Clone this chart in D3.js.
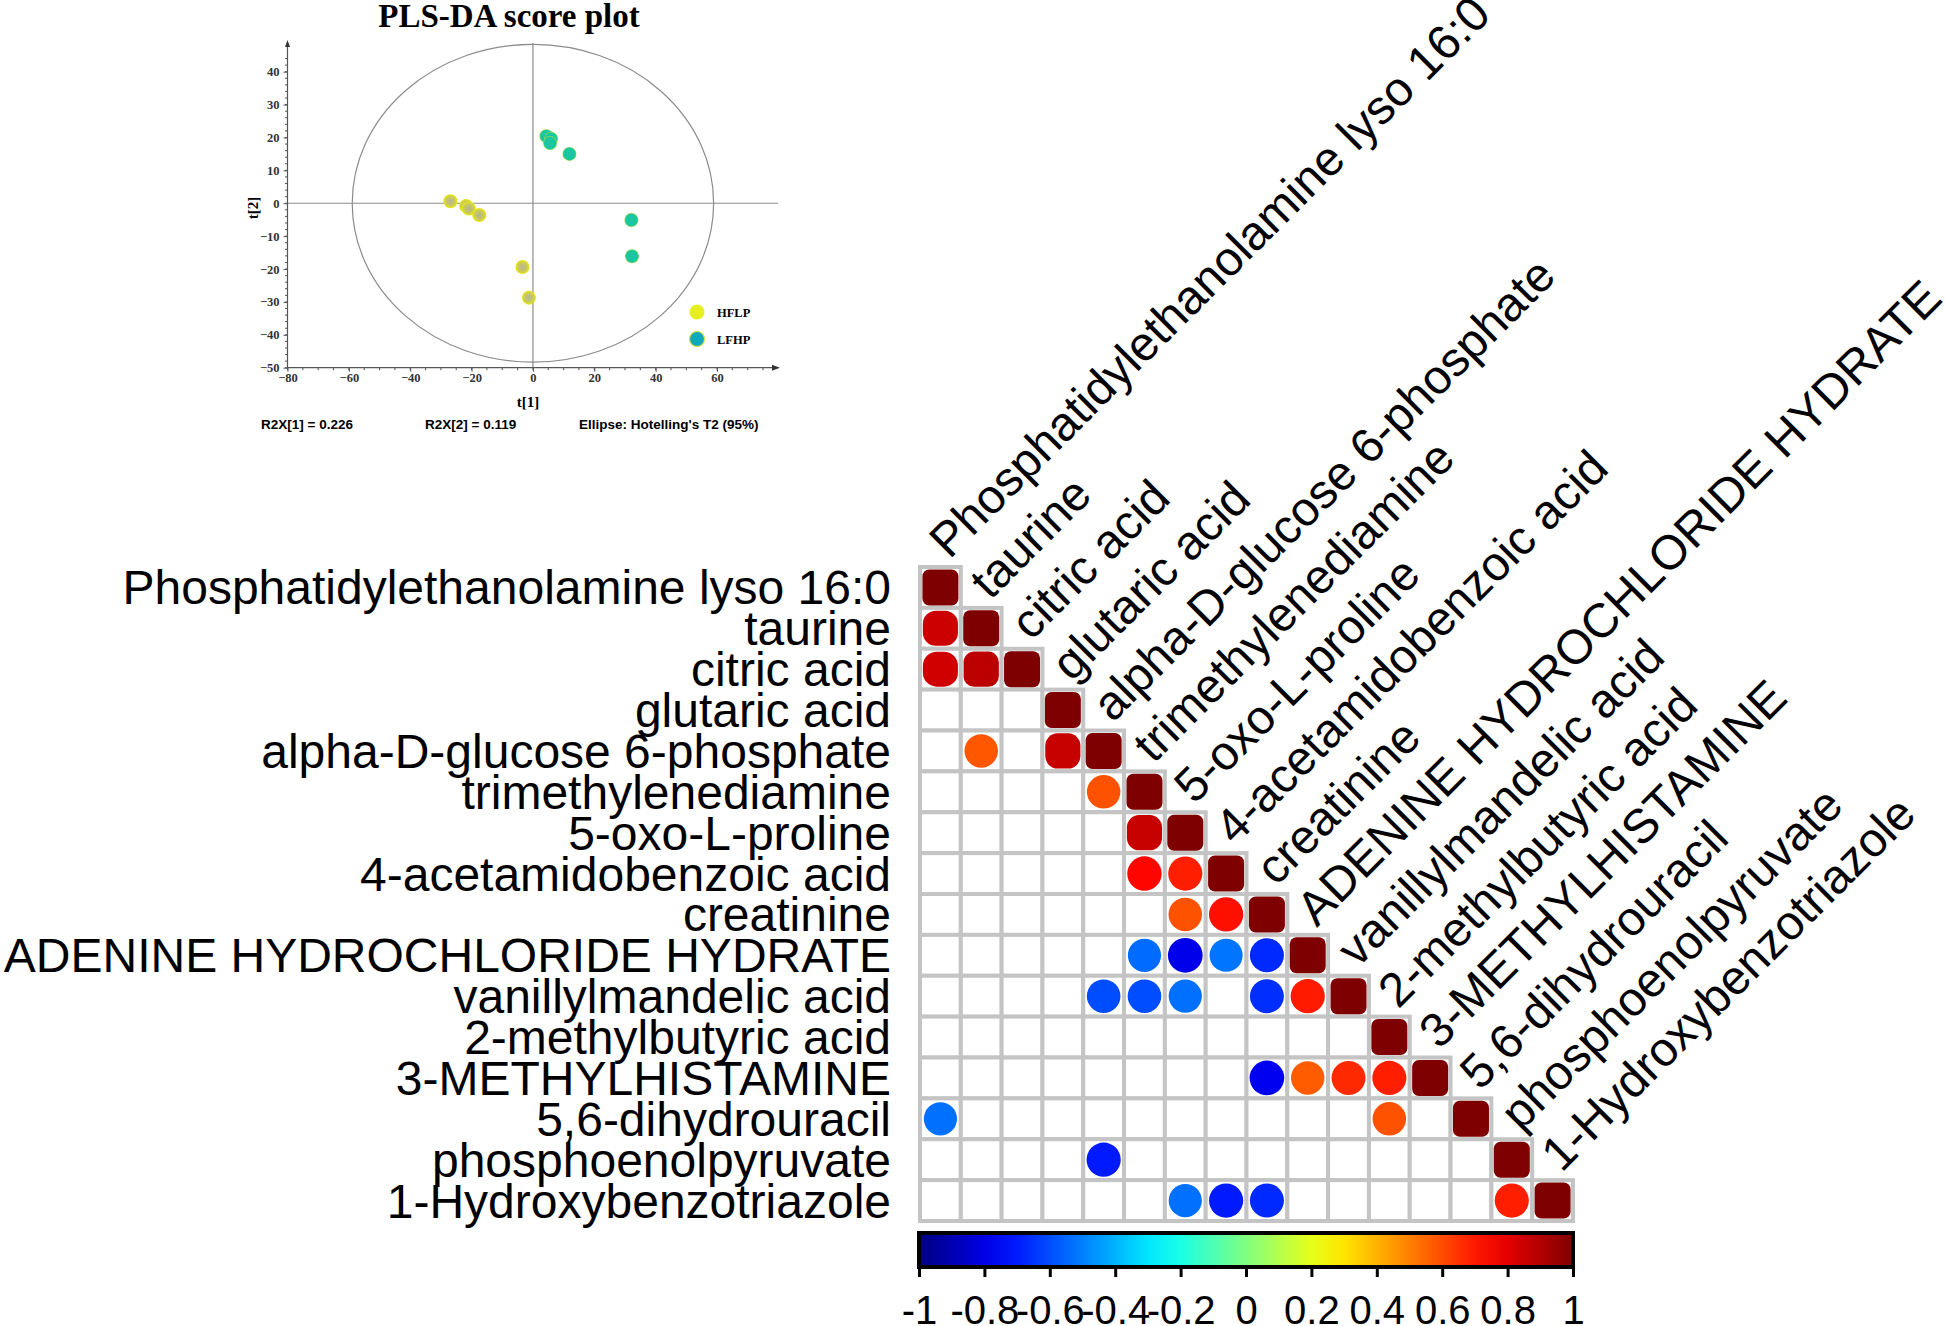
<!DOCTYPE html>
<html>
<head>
<meta charset="utf-8">
<script src="https://cdn.jsdelivr.net/npm/d3@7"></script>
<style>
  body { margin: 0; background: #fff; }
  svg { display: block; }
</style>
</head>
<body>
<div id="chart"></div>
<script>
// ---- PLS-DA score plot data (t[1], t[2]) ----
var hflpT1 = [-26.9, -21.8, -20.9, -17.5, -3.4, -1.3];
var hflpT2 = [0.6, -0.8, -1.6, -3.6, -19.4, -28.7];
var lfhpT1 = [4.4, 5.9, 5.6, 11.9, 32.1, 32.3];
var lfhpT2 = [20.4, 19.6, 18.3, 15.0, -5.1, -16.1];
var plsXTicks = [-80, -60, -40, -20, 0, 20, 40, 60];
var plsYTicks = [40, 30, 20, 10, 0, -10, -20, -30, -40, -50];
var plsStats = ["R2X[1] = 0.226", "R2X[2] = 0.119", "Ellipse: Hotelling's T2 (95%)"];

// ---- correlation matrix (lower triangle, blank = not significant) ----
var labels = ["Phosphatidylethanolamine lyso 16:0", "taurine", "citric acid", "glutaric acid",
  "alpha-D-glucose 6-phosphate", "trimethylenediamine", "5-oxo-L-proline",
  "4-acetamidobenzoic acid", "creatinine", "ADENINE HYDROCHLORIDE HYDRATE",
  "vanillylmandelic acid", "2-methylbutyric acid", "3-METHYLHISTAMINE",
  "5,6-dihydrouracil", "phosphoenolpyruvate", "1-Hydroxybenzotriazole"];
var corrRow = [1, 2, 2, 4, 4, 5, 6, 7, 7, 8, 8, 9, 9, 9, 9, 10, 10, 10, 10, 10,
  12, 12, 12, 12, 13, 13, 14, 15, 15, 15, 15];
var corrCol = [0, 0, 1, 1, 3, 4, 5, 5, 6, 6, 7, 5, 6, 7, 8, 4, 5, 6, 8, 9,
  8, 9, 10, 11, 0, 11, 4, 6, 7, 8, 14];
var corrVal = [0.85, 0.84, 0.88, 0.58, 0.86, 0.59, 0.86, 0.74, 0.69, 0.59, 0.72,
  -0.54, -0.79, -0.52, -0.67, -0.6, -0.6, -0.53, -0.66, 0.7,
  -0.78, 0.57, 0.67, 0.69, -0.53, 0.59, -0.7, -0.53, -0.7, -0.67, 0.69];
var barTicks = [-1, -0.8, -0.6, -0.4, -0.2, 0, 0.2, 0.4, 0.6, 0.8, 1];

var W = 1946, H = 1326;
var svg = d3.select("#chart").append("svg")
  .attr("width", W).attr("height", H);
var defs = svg.append("defs");

// ================= PLS-DA panel =================
var px = d3.scaleLinear().domain([-80, 60]).range([287.5, 717]);
var py = d3.scaleLinear().domain([-50, 40]).range([367.7, 71.7]);
var serif = "'Liberation Serif', 'Times New Roman', serif";
var sans = "'Liberation Sans', Arial, sans-serif";

var pls = svg.append("g");

pls.append("text")
  .attr("x", 509).attr("y", 27)
  .attr("text-anchor", "middle")
  .style("font-family", serif).style("font-weight", "bold").style("font-size", "33px")
  .text("PLS-DA score plot");

// ellipse + crosshair
pls.append("ellipse")
  .attr("cx", px(0)).attr("cy", py(0))
  .attr("rx", px(58.9) - px(0)).attr("ry", py(0) - py(48.3))
  .attr("fill", "none").attr("stroke", "#8c8c8c").attr("stroke-width", 1.2);
pls.append("line")
  .attr("x1", px(0)).attr("x2", px(0)).attr("y1", 43).attr("y2", py(-50))
  .attr("stroke", "#8c8c8c").attr("stroke-width", 1.2);
pls.append("line")
  .attr("x1", px(-80)).attr("x2", 778).attr("y1", py(0)).attr("y2", py(0))
  .attr("stroke", "#8c8c8c").attr("stroke-width", 1.2);

// axes
var xAxis = d3.axisBottom(px).tickValues(plsXTicks).tickSize(4).tickSizeOuter(0);
var yAxis = d3.axisLeft(py).tickValues(plsYTicks).tickSize(4).tickSizeOuter(0);
var gx = pls.append("g").attr("transform", "translate(0," + py(-50) + ")").call(xAxis);
var gy = pls.append("g").attr("transform", "translate(" + px(-80) + ",0)").call(yAxis);
[gx, gy].forEach(function(g) {
  g.select(".domain").remove();
  g.selectAll("line").attr("stroke", "#555");
  g.selectAll("text").style("font-family", serif).style("font-weight", "bold")
    .style("font-size", "12.5px").attr("fill", "#333");
});
gx.selectAll("text").attr("dy", "0.6em");
gy.selectAll("text").attr("dx", "-1px");

// minor ticks
var minorX = d3.range(-80, 80, 5);
var minorY = d3.range(-50, 46, 2);
pls.selectAll(".mx").data(minorX).enter().append("line")
  .attr("x1", function(d) { return px(d); }).attr("x2", function(d) { return px(d); })
  .attr("y1", py(-50)).attr("y2", py(-50) + 2.5)
  .attr("stroke", "#555");
pls.selectAll(".my").data(minorY).enter().append("line")
  .attr("y1", function(d) { return py(d); }).attr("y2", function(d) { return py(d); })
  .attr("x1", px(-80)).attr("x2", px(-80) - 2.5)
  .attr("stroke", "#555");

pls.append("line").attr("x1", px(-80)).attr("x2", 776).attr("y1", py(-50)).attr("y2", py(-50))
  .attr("stroke", "#555").attr("stroke-width", 1.2);
pls.append("line").attr("x1", px(-80)).attr("x2", px(-80)).attr("y1", py(-50)).attr("y2", 44)
  .attr("stroke", "#555").attr("stroke-width", 1.2);
pls.append("path").attr("d", "M780," + py(-50) + "l-8,-3l0,6z").attr("fill", "#333");
pls.append("path").attr("d", "M" + px(-80) + ",40l-2.5,7l5,0z").attr("fill", "#333");

pls.append("text").attr("x", 528).attr("y", 407).attr("text-anchor", "middle")
  .style("font-family", serif).style("font-weight", "bold").style("font-size", "15px")
  .text("t[1]");
pls.append("text").attr("transform", "translate(258,208) rotate(-90)").attr("text-anchor", "middle")
  .style("font-family", serif).style("font-weight", "bold").style("font-size", "15px")
  .text("t[2]");

// point gradients
var gY = defs.append("radialGradient").attr("id", "gY");
gY.append("stop").attr("offset", "0%").attr("stop-color", "#b4b49a");
gY.append("stop").attr("offset", "60%").attr("stop-color", "#c8c860");
gY.append("stop").attr("offset", "100%").attr("stop-color", "#e8e80c");
var gT = defs.append("radialGradient").attr("id", "gT");
gT.append("stop").attr("offset", "0%").attr("stop-color", "#20c4a4");
gT.append("stop").attr("offset", "80%").attr("stop-color", "#14c8a0");
gT.append("stop").attr("offset", "100%").attr("stop-color", "#a0d850");

pls.selectAll(".hf").data(hflpT1).enter().append("circle")
  .attr("cx", function(d) { return px(d); })
  .attr("cy", function(d, i) { return py(hflpT2[i]); })
  .attr("r", 7).attr("fill", "url(#gY)");
pls.selectAll(".lf").data(lfhpT1).enter().append("circle")
  .attr("cx", function(d) { return px(d); })
  .attr("cy", function(d, i) { return py(lfhpT2[i]); })
  .attr("r", 7).attr("fill", "url(#gT)");

// legend
var legend = [["HFLP", "#e6f020", "none"], ["LFHP", "#10a8bc", "#d8e040"]];
legend.forEach(function(l, i) {
  var ly = 312 + i * 27;
  pls.append("circle").attr("cx", 697).attr("cy", ly).attr("r", 7.5)
    .attr("fill", l[1]).attr("stroke", l[2]).attr("stroke-width", 1.2);
  pls.append("text").attr("x", 717).attr("y", ly + 4.5)
    .style("font-family", serif).style("font-weight", "bold").style("font-size", "12.5px")
    .text(l[0]);
});

var statX = [261, 425, 579];
plsStats.forEach(function(s, i) {
  pls.append("text").attr("x", statX[i]).attr("y", 429)
    .style("font-family", sans).style("font-weight", "bold").style("font-size", "13.5px")
    .text(s);
});

// ================= correlation plot =================
var n = labels.length;
var cx = d3.scaleBand().domain(d3.range(n)).range([920, 1573]);
var cy = d3.scaleBand().domain(d3.range(n)).range([567, 1221]);
var bw = cx.bandwidth(), bh = cy.bandwidth();

var jet = d3.scaleLinear()
  .domain([-1, -0.75, -0.25, 0.25, 0.75, 1])
  .range(["#00007f", "#0000ff", "#00ffff", "#ffff00", "#ff0000", "#7f0000"]);

var cells = [];
for (var i = 0; i < n; i++) {
  for (var j = 0; j <= i; j++) cells.push([i, j]);
}
var corr = svg.append("g");
corr.selectAll(".cell").data(cells).enter().append("rect")
  .attr("x", function(d) { return cx(d[1]); })
  .attr("y", function(d) { return cy(d[0]); })
  .attr("width", bw).attr("height", bh)
  .attr("fill", "#fff").attr("stroke", "#c4c4c4").attr("stroke-width", 4);

var marks = [];
for (var k = 0; k < n; k++) marks.push({ r: k, c: k, v: 1 });
for (var k = 0; k < corrVal.length; k++) marks.push({ r: corrRow[k], c: corrCol[k], v: corrVal[k] });

function markSize(v) { return 30 + 6 * Math.abs(v); }
function markRound(v) {
  var f = Math.max(0.38, Math.min(1, (1 - Math.abs(v)) / 0.2));
  return markSize(v) / 2 * f;
}
corr.selectAll(".mark").data(marks).enter().append("rect")
  .attr("x", function(d) { return cx(d.c) + bw / 2 - markSize(d.v) / 2; })
  .attr("y", function(d) { return cy(d.r) + bh / 2 - markSize(d.v) / 2; })
  .attr("width", function(d) { return markSize(d.v); })
  .attr("height", function(d) { return markSize(d.v); })
  .attr("rx", function(d) { return markRound(d.v); })
  .attr("fill", function(d) { return jet(d.v); });

// row labels
corr.selectAll(".rl").data(labels).enter().append("text")
  .attr("x", 891)
  .attr("y", function(d, i) { return cy(i) + bh / 2 + 17; })
  .attr("text-anchor", "end")
  .style("font-family", sans).style("font-size", "48px")
  .text(function(d) { return d; });

// column labels along the diagonal
corr.selectAll(".cl").data(labels).enter().append("text")
  .attr("transform", function(d, i) {
    return "translate(" + (cx(i) + bw / 2 + 9) + "," + (cy(i) - 7) + ") rotate(-45)";
  })
  .style("font-family", sans).style("font-size", "48px")
  .text(function(d) { return d; });

// colour bar
var bx = d3.scaleLinear().domain([-1, 1]).range([919, 1573]);
var grad = defs.append("linearGradient").attr("id", "jetbar");
d3.range(0, 1.0001, 0.05).forEach(function(t) {
  grad.append("stop").attr("offset", (t * 100) + "%").attr("stop-color", jet(-1 + 2 * t));
});
corr.append("rect").attr("x", bx(-1)).attr("y", 1233).attr("width", bx(1) - bx(-1)).attr("height", 34)
  .attr("fill", "url(#jetbar)").attr("stroke", "#000").attr("stroke-width", 4);
var bAxis = d3.axisBottom(bx).tickValues(barTicks).tickSize(10).tickSizeOuter(0)
  .tickFormat(function(d) { return String(d).replace("\u2212", "-"); });
var gb = corr.append("g").attr("transform", "translate(0,1267)").call(bAxis);
gb.select(".domain").remove();
gb.selectAll("line").attr("stroke", "#000").attr("stroke-width", 3);
gb.selectAll("text").attr("y", 57).attr("dy", 0)
  .style("font-family", sans).style("font-size", "40px").attr("fill", "#000");
</script>
</body>
</html>
